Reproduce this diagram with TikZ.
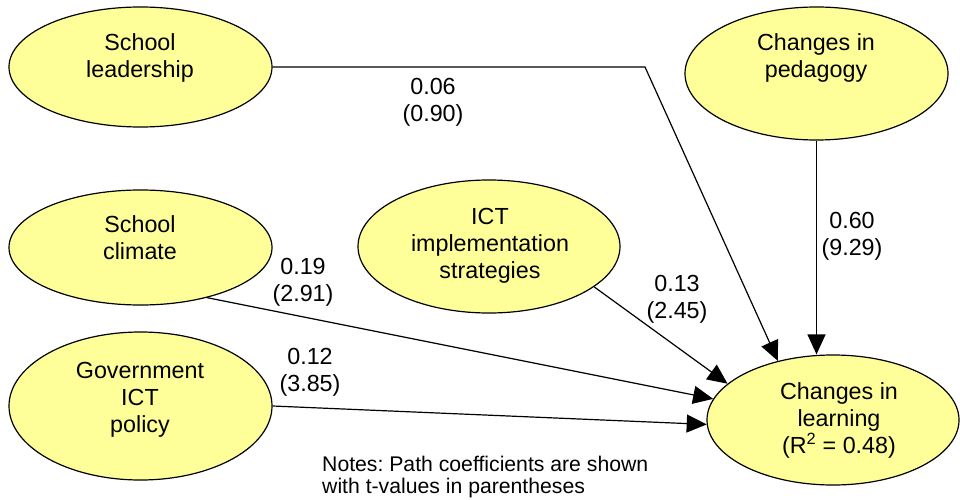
\documentclass[tikz,border=0pt]{standalone}
\usepackage{fontspec}
\setmainfont{Liberation Sans}
\usetikzlibrary{arrows.meta,shapes.geometric}
\definecolor{construct}{HTML}{FFFF99}
\frenchspacing
\tikzset{
  construct/.style={ellipse, draw=black, line width=1.2pt, fill=construct, inner sep=0pt},
  caption/.style={align=center, inner sep=0pt, font=\fontsize{23.3}{27}\selectfont},
  coef/.style={align=center, inner sep=0pt, font=\fontsize{23.3}{27}\selectfont},
  path/.style={line width=1.2pt, -{Triangle[length=20pt,width=18pt]}},
}
\begin{document}
\begin{tikzpicture}[x=1pt, y=-1pt]
\useasboundingbox (0,0) rectangle (960,500);

% latent constructs
\node[construct, minimum width=263pt, minimum height=120pt] (lead)  at (140.5,67)   {};
\node[construct, minimum width=263pt, minimum height=133pt] (ped)   at (816.5,73.5) {};
\node[construct, minimum width=263pt, minimum height=115pt] (clim)  at (140.5,247.5) {};
\node[construct, minimum width=263pt, minimum height=148pt] (gov)   at (140.5,406)  {};
\node[construct, minimum width=262pt, minimum height=133pt] (ict)   at (489,246.5)  {};
\node[construct, minimum width=252pt, minimum height=130pt] (learn) at (833,420)    {};

% construct names
\node[caption] (leadT)  at (140,58)  {School\\leadership};
\node[caption] (pedT)   at (816,58)  {Changes in\\pedagogy};
\node[caption] (climT)  at (140,238) {School\\climate};
\node[caption] (govT)   at (140,400) {Government\\ICT\\policy};
\node[caption] (ictT)   at (490,246) {ICT\\implementation\\strategies};
\node[caption] (learnT) at (839,420) {Changes in\\learning\\(R\textsuperscript{2} = 0.48)};

% structural paths
\coordinate (bend) at (645,67);
\draw[path] (lead.east) -- (bend) -- (learn.133);
\draw[path] (ped.south) -- (ped.south |- learn.north);
\draw[path] (ict.-21) -- (learn.161);
\draw[path] (clim.-37) -- (learn.170);
\draw[path] (gov.east) -- (learn.182);

% path coefficients with t-values
\node[coef] (c1) at (433,102) {0.06\\(0.90)};
\node[coef] (c2) at (852,236) {0.60\\(9.29)};
\node[coef] (c3) at (303,282) {0.19\\(2.91)};
\node[coef] (c4) at (677,299) {0.13\\(2.45)};
\node[coef] (c5) at (310,372) {0.12\\(3.85)};

% footnote
\node[align=left, inner sep=0pt, anchor=west, font=\fontsize{21.2}{22}\selectfont] (notes) at (322,477)
  {Notes: Path coefficients are shown\\with t-values in parentheses};
\end{tikzpicture}
\end{document}
